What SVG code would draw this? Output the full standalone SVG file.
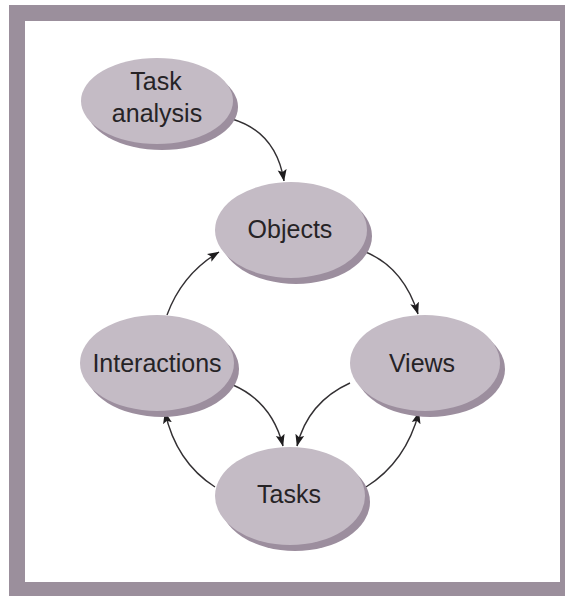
<svg xmlns="http://www.w3.org/2000/svg" width="565" height="596" viewBox="0 0 565 596">
  <style>
    .node { fill: #c4bbc5; }
    .shade { fill: #9c8e9e; }
    .label { font-family: "Liberation Sans", Arial, sans-serif; font-size: 25px; fill: #262326; text-anchor: middle; }
    .link { fill: none; stroke: #333033; stroke-width: 1.4; marker-end: url(#arrow); }
  </style>
  <defs>
    <marker id="arrow" markerUnits="userSpaceOnUse" markerWidth="12" markerHeight="10" viewBox="0 0 12 10" refX="11.5" refY="5" orient="auto">
      <path d="M0,0.5 L12,5 L0,9.5 L2.5,5 Z" fill="#1e1c1e"/>
    </marker>
  </defs>

  <!-- frame -->
  <rect x="9" y="5" width="556" height="591" fill="#9b8f9c"/>
  <rect x="25" y="21" width="535" height="561" fill="#ffffff"/>

  <!-- connectors -->
  <g id="connectors">
    <path class="link" d="M232,119 Q276,132 284,181"/>
    <path class="link" d="M167,315 Q182,274 219,252"/>
    <path class="link" d="M363,251 Q403,266 418,314"/>
    <path class="link" d="M233,385 Q272,402 283,446"/>
    <path class="link" d="M350,383 Q308,402 297,446"/>
    <path class="link" d="M215,487 Q176,462 165,412"/>
    <path class="link" d="M366,487 Q406,462 419,412"/>
  </g>

  <g id="task-analysis">
    <ellipse class="shade" cx="162" cy="107" rx="76" ry="43"/>
    <ellipse class="node" cx="157" cy="101" rx="76" ry="43"/>
    <text class="label" x="156" y="90">Task</text>
    <text class="label" x="157" y="122">analysis</text>
  </g>

  <g id="objects">
    <ellipse class="shade" cx="296" cy="236" rx="76" ry="48"/>
    <ellipse class="node" cx="291" cy="230" rx="76" ry="48"/>
    <text class="label" x="290" y="238">Objects</text>
  </g>

  <g id="interactions">
    <ellipse class="shade" cx="162" cy="369" rx="77" ry="48"/>
    <ellipse class="node" cx="157" cy="363" rx="77" ry="48"/>
    <text class="label" x="157" y="372">Interactions</text>
  </g>

  <g id="views">
    <ellipse class="shade" cx="430" cy="369" rx="75" ry="48"/>
    <ellipse class="node" cx="425" cy="363" rx="75" ry="48"/>
    <text class="label" x="422" y="372">Views</text>
  </g>

  <g id="tasks">
    <ellipse class="shade" cx="295" cy="502" rx="75" ry="49"/>
    <ellipse class="node" cx="290" cy="496" rx="75" ry="49"/>
    <text class="label" x="289" y="503">Tasks</text>
  </g>
</svg>
